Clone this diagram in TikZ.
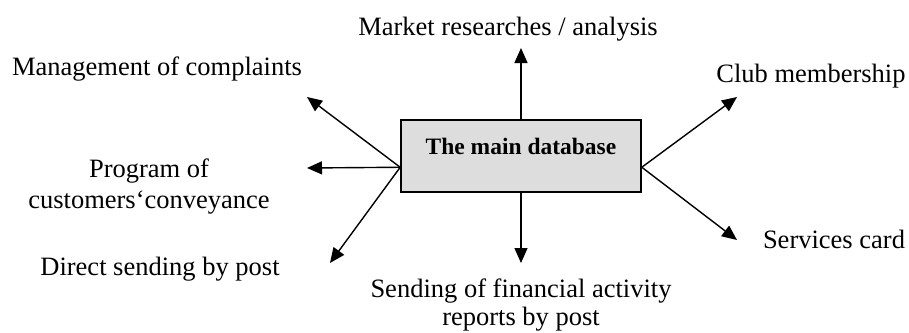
\documentclass[tikz,border=0pt]{standalone}
\usepackage{fontspec}
\setmainfont{Liberation Serif}
\usetikzlibrary{arrows.meta,calc}
\definecolor{boxgray}{HTML}{DDDDDD}
\begin{document}
\begin{tikzpicture}[x=1pt,y=-1pt,
  lbl/.style={inner sep=0pt,anchor=base,font=\fontsize{26.5}{28}\selectfont},
  lbltwo/.style={inner sep=0pt,align=center,font=\fontsize{26.5}{31}\selectfont},
  mainbox/.style={draw,line width=1.6pt,fill=boxgray,inner xsep=0pt,inner ysep=0pt,
    minimum width=240pt,text height=34pt,text depth=38pt,
    font=\fontsize{23.5}{26}\selectfont\bfseries},
  arr/.style={line width=1.4pt,-{Triangle[length=15pt,width=13pt]}}]
\useasboundingbox (0,0) rectangle (909,332);
\node[mainbox] (box) at (521,156) {The main database};
% labels
\node[lbl] (market) at (508,35) {Market researches / analysis};
\node[lbl] (compl) at (157,75) {Management of complaints};
\node[lbltwo,anchor=base] (prog) at (149,208) {Program of\\customers‘conveyance};
\node[lbl] (direct) at (160,275) {Direct sending by post};
\node[lbl] (club) at (811,82) {Club membership};
\node[lbl] (serv) at (834,248) {Services card};
\node[lbltwo,anchor=base,font=\fontsize{26.5}{28}\selectfont] (send) at (521,325) {Sending of financial activity\\reports by post};
% origins and tips
\coordinate (lo) at ($(box.south west)!0.347!(box.north west)$);
\coordinate (ro) at ($(box.south east)!0.347!(box.north east)$);
\coordinate (tcompl) at (307,97);
\coordinate (tprog) at (307,168);
\coordinate (tdirect) at (330,263);
\coordinate (tclub) at (737,97);
\coordinate (tserv) at (737,240);
\coordinate (tup) at (521,48);
\coordinate (tdown) at (521,263);
\draw[arr] (box.north) -- (tup);
\draw[arr] (box.south) -- (tdown);
\draw[arr] (lo) -- (tcompl);
\draw[arr] (lo) -- (tprog);
\draw[arr] (lo) -- (tdirect);
\draw[arr] (ro) -- (tclub);
\draw[arr] (ro) -- (tserv);
\end{tikzpicture}
\end{document}
